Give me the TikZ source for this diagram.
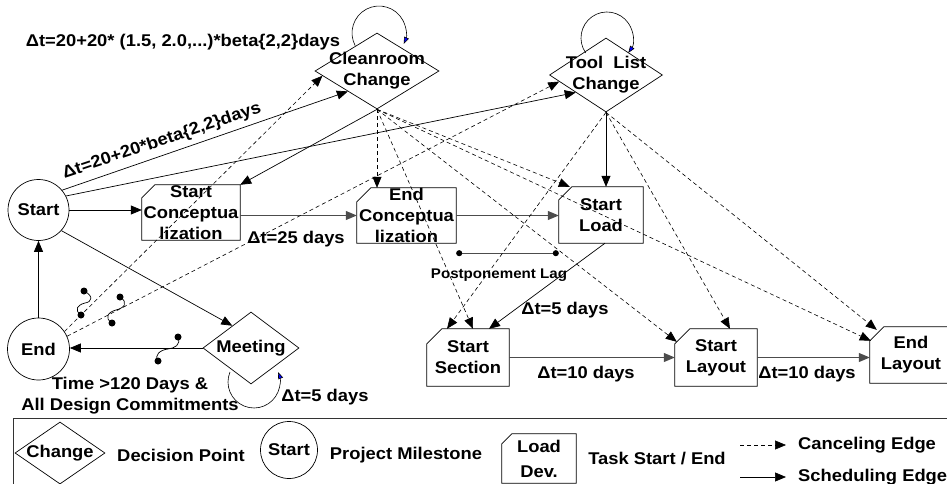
\documentclass[tikz,border=0pt]{standalone}
\usepackage{fontspec}
\setmainfont{Liberation Sans}[FakeStretch=1.08]
\usetikzlibrary{shapes.geometric,arrows.meta}
\newcommand\taskoutline[2]{\draw[line width=0.7pt] ([yshift=-#2pt]#1.north west) -- ([xshift=#2pt]#1.north west) -- (#1.north east) -- (#1.south east) -- (#1.south west) -- cycle;}
\begin{document}
\begin{tikzpicture}[x=1pt,y=-1pt,
  every node/.style={font=\fontsize{17}{21}\selectfont\bfseries, inner sep=0pt},
  ms/.style={circle, draw, line width=0.7pt, minimum size=61pt},
  dp/.style={diamond, draw, line width=0.7pt},
  tk/.style={rectangle},
  sched/.style={draw, line width=0.7pt, -{Triangle[length=11pt,width=9pt]}},
  schedg/.style={sched, draw=black!70, line width=1pt},
  canc/.style={draw, line width=0.6pt, dash pattern=on 4pt off 3pt, -{Triangle[length=11pt,width=9pt]}},
  loopa/.style={draw, line width=0.6pt, -{Triangle[length=7pt,width=5pt,fill=blue]}},
  squig/.style={draw, line width=0.7pt},
]
\useasboundingbox (0,0) rectangle (947,484);

% milestones
\node[ms] (start) at (38.5,210) {Start};
\node[ms, minimum size=62pt] (endn) at (38.5,349) {End};

% decision points
\node[dp, minimum width=124pt, minimum height=76pt, label={[align=center]center:Cleanroom\\Change}] (cr) at (377,71) {};
\node[dp, minimum width=113pt, minimum height=74pt, label={[align=center]center:Tool~ List\\Change}] (tl) at (606,75) {};
\node[dp, minimum width=96pt, minimum height=72pt, label={center:Meeting}] (meet) at (251,348) {};

% tasks
\node[tk, minimum width=98pt, minimum height=55pt, label={[align=center]center:Start\\Conceptua\\lization}] (sc) at (191,212.5) {};
\node[tk, minimum width=99pt, minimum height=55pt, label={[align=center]center:End\\Conceptua\\lization}] (ec) at (406.5,215.5) {};
\node[tk, minimum width=84pt, minimum height=56pt, label={[align=center]center:Start\\Load}] (sl) at (601,215) {};
\node[tk, minimum width=82pt, minimum height=57pt, label={[align=center]center:Start\\Section}] (ss) at (468,357.5) {};
\node[tk, minimum width=82pt, minimum height=57pt, label={[align=center]center:Start\\Layout}] (sla) at (716,357.5) {};
\node[tk, minimum width=82pt, minimum height=56pt, label={[align=center]center:End\\Layout}] (el) at (911,355) {};
\taskoutline{sc}{13}
\taskoutline{ec}{14}
\taskoutline{sl}{13}
\taskoutline{ss}{15}
\taskoutline{sla}{15}
\taskoutline{el}{14}

% self loops
\coordinate (crl) at (355.2,45.7);
\draw[loopa] (crl) arc[start angle=152, end angle=384, radius=27];
\coordinate (tll) at (585.7,52.9);
\draw[loopa] (tll) arc[start angle=145, end angle=395, radius=26];
\coordinate (mel) at (230,372);
\draw[loopa] (mel) arc[start angle=202.6, end angle=-22.6, radius=26];

% scheduling edges
\draw[sched] (start.40) -- (cr.215);
\draw[sched] (start.27) -- (tl.210);
\draw[sched] (start.east) -- (start.east -| sc.west);
\draw[sched] (start.-42) -- (meet.130);
\draw[sched] (endn.north) -- (start.south);
\draw[sched] (meet.west) -- (meet.west -| endn.east);
\draw[sched] (cr.south) -- (sc.north east);
\draw[schedg] (sc.east |- ec.west) -- (ec.west);
\draw[schedg] (ec.east) -- (ec.east -| sl.west);
\draw[sched] (tl.south) -- (tl.south |- sl.north);
\draw[sched] ([xshift=4pt]sl.south) -- ([xshift=21pt]ss.north);
\draw[schedg] (ss.east) -- (ss.east -| sla.west);
\draw[schedg] (sla.east) -- (sla.east -| el.west);

% postponement lag
\coordinate (pl1) at ([yshift=-10pt]ec.south east);
\coordinate (pl2) at ([yshift=-10pt]sl.south west);
\draw[line width=1pt, draw=black!70, {Circle[length=6pt,black]}-{Circle[length=6pt,black]}] (pl1) -- (pl2);

% canceling edges
\draw[canc] (endn.34) -- (cr.185);
\draw[canc] (endn.24) -- (tl.188);
\draw[canc] (cr.south) -- (cr.south |- ec.north);
\draw[canc] (cr.south) -- ([xshift=5pt]ss.north);
\draw[canc] (cr.south) -- ([xshift=11pt]sl.north west);
\draw[canc] (cr.south) -- ([xshift=2pt,yshift=-13pt]sla.north west);
\draw[canc] (cr.south) -- ([xshift=1pt,yshift=-14pt]el.north west);
\draw[canc] (tl.south) -- ([xshift=-21pt]ss.north);
\draw[canc] (tl.south) -- ([xshift=14pt]sla.north);
\draw[canc] (tl.south) -- ([xshift=7pt,yshift=-3pt]el.north west);

% squiggle markers
\coordinate (q1a) at (84,291); \coordinate (q1b) at (81,315);
\draw[squig] (q1a) .. controls (94,296) and (92,302) .. (85,303) .. controls (77,305) and (74,310) .. (q1b);
\fill (q1a) circle[radius=3.5pt]; \fill (q1b) circle[radius=3.5pt];
\coordinate (q2a) at (120,297); \coordinate (q2b) at (112,323);
\draw[squig] (q2a) .. controls (129,303) and (124,308) .. (116,310) .. controls (108,312) and (104,318) .. (q2b);
\fill (q2a) circle[radius=3.5pt]; \fill (q2b) circle[radius=3.5pt];
\coordinate (q3a) at (178,337); \coordinate (q3b) at (158,361);
\draw[squig] (q3a) .. controls (181,345) and (175,348) .. (168,349) .. controls (160,350) and (154,355) .. (q3b);
\fill (q3a) circle[radius=3.5pt]; \fill (q3b) circle[radius=3.5pt];

% labels
\node (t1) at (183,42) {Δt=20+20* (1.5, 2.0,...)*beta\{2,2\}days};
\node[rotate=18.5] (t2) at (162,141) {Δt=20+20*beta\{2,2\}days};
\node (t3) at (296,239) {Δt=25 days};
\node[font=\fontsize{14}{16}\selectfont\bfseries] (t4) at (499,275) {Postponement Lag};
\node (t5) at (565,310) {Δt=5 days};
\node (t6) at (586,374) {Δt=10 days};
\node (t7) at (807,374) {Δt=10 days};
\node (t8) at (325,397) {Δt=5 days};
\node[align=center] (t9) at (130,396) {Time >120 Days \&\\All Design Commitments};

% legend
\draw[line width=0.8pt, draw=black!80] (13,495) -- (13,418) -- (960,418);
\node[dp, minimum width=90pt, minimum height=62pt, label={center:Change}] (lgd) at (60,453) {};
\node (lgdt) at (181,455) {Decision Point};
\node[ms, minimum size=57pt] (lgm) at (289,450) {Start};
\node (lgmt) at (406,455) {Project Milestone};
\node[tk, minimum width=74pt, minimum height=49pt, label={[align=center]center:Load\\[4pt]Dev.}] (lgt) at (539,458.5) {};
\taskoutline{lgt}{10}
\node (lgtt) at (657,459) {Task Start / End};
\coordinate (lc1) at (740,445); \coordinate (lc2) at (786,445);
\draw[canc] (lc1) -- (lc2);
\node[anchor=west] (lct) at (798,445) {Canceling Edge};
\coordinate (ls1) at (740,477); \coordinate (ls2) at (786,477);
\draw[sched] (ls1) -- (ls2);
\node[anchor=west] (lst) at (798,477) {Scheduling Edge};
\end{tikzpicture}
\end{document}
